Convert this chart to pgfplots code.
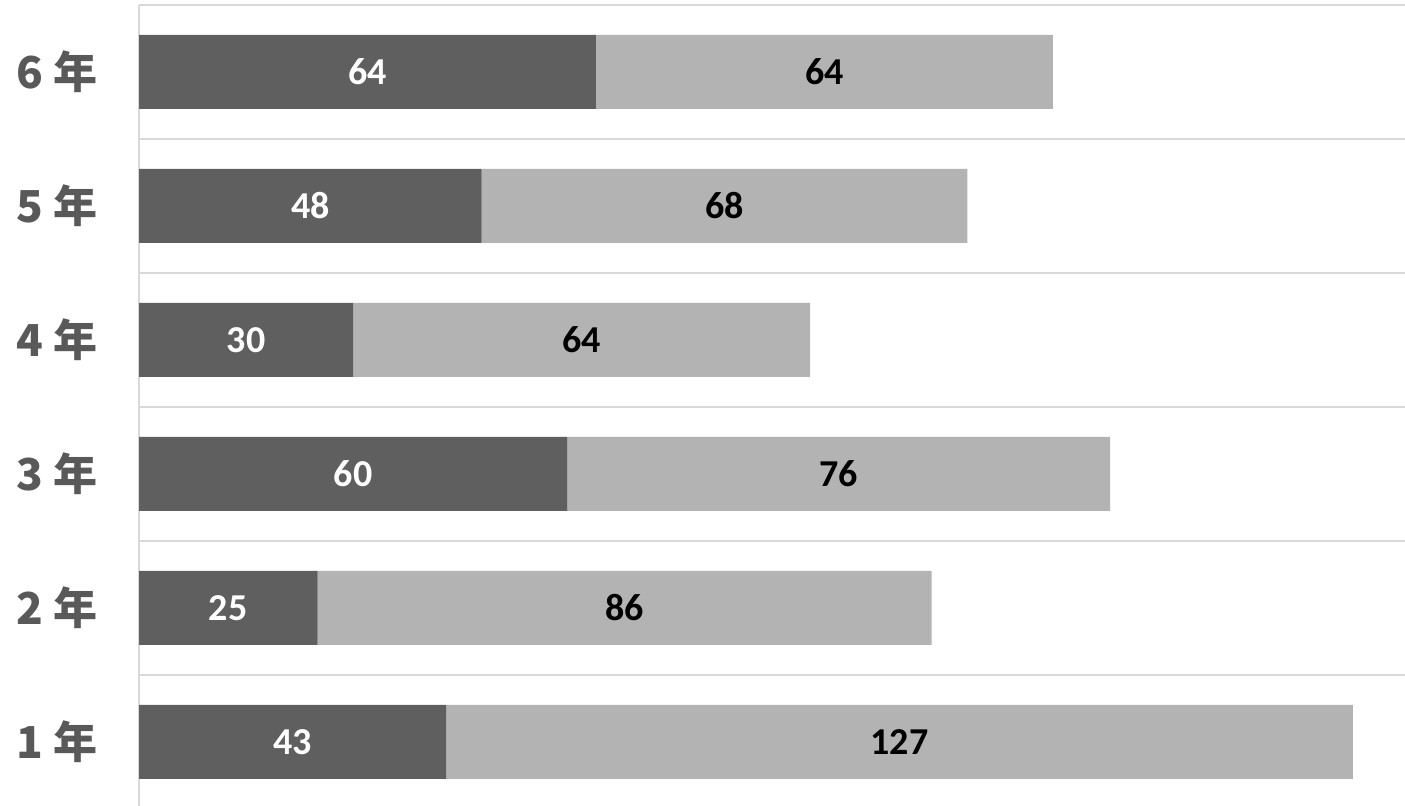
\documentclass[border=0pt]{standalone}
\usepackage{fontspec}
\setmainfont{Carlito}
\newfontfamily\cjk{Noto Sans CJK JP}
\usepackage{pgfplots}
\usepackage{pgfplotstable}
\pgfplotsset{compat=1.18}

\definecolor{darkbar}{HTML}{5F5F5F}
\definecolor{lightbar}{HTML}{B3B3B3}
\definecolor{gridc}{HTML}{D9D9D9}
\definecolor{labc}{HTML}{595959}

% y, dark, light, centre of dark, centre of light
\pgfplotstableread{
y dark light dc lc
1 43 127 21.5 106.5
2 25 86 12.5 68
3 60 76 30 98
4 30 64 15 62
5 48 68 24 82
6 64 64 32 96
}\grades

\pgfplotsset{
  base/.style={
    scale only axis,
    width=633pt, height=402pt,
    at={(69.5pt,-1.5pt)}, anchor=south west,
    xmin=0, xmax=177.3,
    ymin=0.5, ymax=6.5,
  },
  vlab/.style={
    only marks, mark=*, mark size=0pt,
    mark options={draw=none, fill=none},
    nodes near coords,
    nodes near coords align={center},
    point meta=explicit symbolic,
  },
}

\begin{document}
\begin{tikzpicture}
\useasboundingbox (0,0) rectangle (702.5pt,403pt);
\begin{axis}[base,
  xbar stacked,
  bar width=37pt,
  axis y line*=left,
  axis x line=none,
  y axis line style={draw=gridc, line width=1pt, -},
  xtick=\empty,
  ytick={1,...,6},
  yticklabels={1 年,2 年,3 年,4 年,5 年,6 年},
  yticklabel style={font=\cjk\bfseries\fontsize{22}{22}\selectfont, text=labc, inner sep=0pt, xshift=-20.5pt},
  major tick length=0pt,
  minor ytick={0.5,1.5,...,6.5},
  minor tick length=0pt,
  yminorgrids,
  minor grid style={draw=gridc, line width=1pt},
]
\addplot[fill=darkbar, draw=none] table[x=dark, y=y] {\grades};
\addplot[fill=lightbar, draw=none] table[x=light, y=y] {\grades};
\end{axis}
\begin{axis}[base, hide axis]
\addplot[vlab, every node near coord/.append style={text=white, font=\bfseries\fontsize{19}{19}\selectfont}]
  table[x=dc, y=y, meta=dark] {\grades};
\addplot[vlab, every node near coord/.append style={text=black, font=\bfseries\fontsize{19}{19}\selectfont}]
  table[x=lc, y=y, meta=light] {\grades};
\end{axis}
\end{tikzpicture}
\end{document}
